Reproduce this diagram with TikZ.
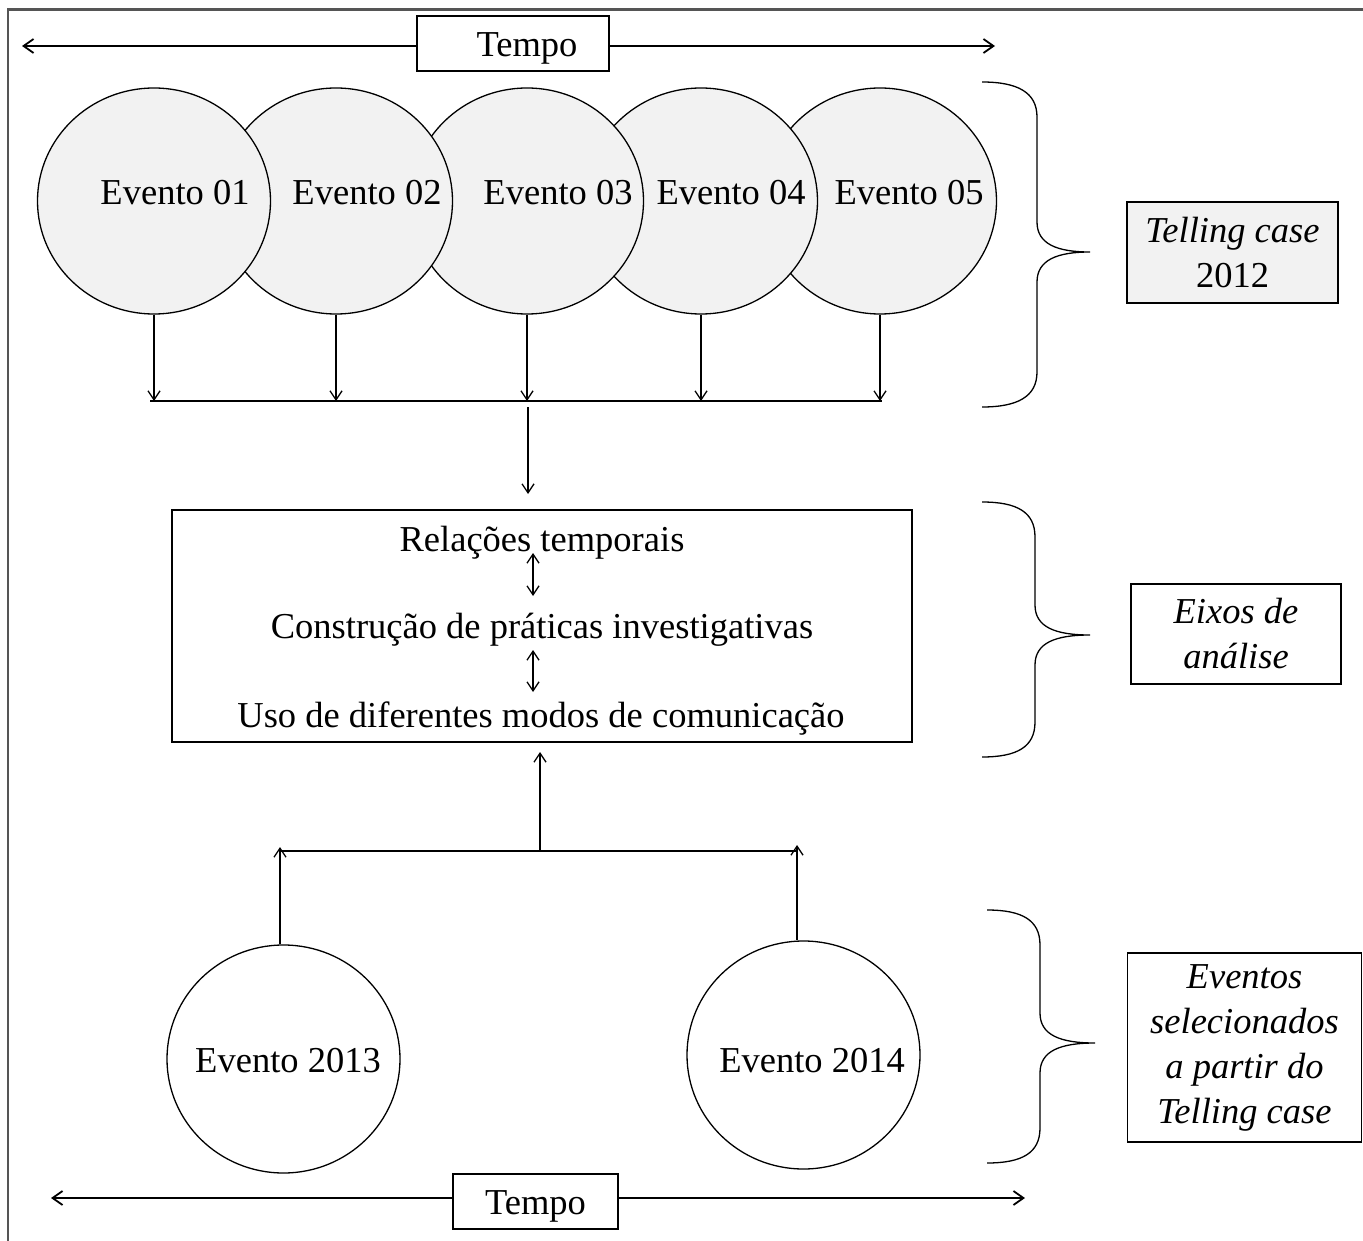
\documentclass[tikz,border=0pt]{standalone}
\usepackage{fontspec}
\setmainfont{Liberation Serif}
\usetikzlibrary{arrows.meta,shapes.geometric}

\definecolor{evfill}{HTML}{F2F2F2}
\definecolor{framec}{HTML}{555555}

% curly brace opening to the right: end x, spine x, tip x, top y, tip y, bottom y
\newcommand\mybrace[6]{%
  \draw (#1,#4) .. controls (#1+35,#4) and (#2,#4+10) .. (#2,#4+35)
        -- (#2,#5-30) .. controls (#2,#5-8) and (#2+20,#5) .. (#3,#5)
        .. controls (#2+20,#5) and (#2,#5+8) .. (#2,#5+30)
        -- (#2,#6-35) .. controls (#2,#6-10) and (#1+35,#6) .. (#1,#6);}

\begin{document}
\begin{tikzpicture}[x=1pt,y=-1pt,line width=1.3pt,
  every node/.style={font=\fontsize{36.5}{45}\selectfont},
  evt/.style={ellipse,draw,fill=evfill,minimum width=233pt,minimum height=226pt,inner sep=0pt},
  evtw/.style={evt,fill=white,minimum height=228pt},
  lbl/.style={anchor=base,inner sep=0pt},
  box/.style={draw,inner sep=0pt,align=center},
  arr/.style={-{Straight Barb[length=9pt,width=12pt]}},
  darr/.style={{Straight Barb[length=9pt,width=12pt]}-{Straight Barb[length=9pt,width=12pt]}},
  tarr/.style={line width=1.8pt,-{Straight Barb[length=10pt,width=14pt]}}]

\useasboundingbox (0,0) rectangle (1363,1241);

% frame
\draw[framec,line width=2.5pt] (8,1241) -- (8,9.5) -- (1363,9.5);

% time axis at the top
\node[box,minimum width=192pt,minimum height=55pt] (tempo1) at (513,43.5) {};
\node[lbl] (tt1) at (527,57) {Tempo};
\coordinate (tl1) at (22,46);
\coordinate (tr1) at (995,46);
\draw[tarr] (tempo1.west |- tl1) -- (tl1);
\draw[tarr] (tempo1.east |- tr1) -- (tr1);

% events of 2012
\node[evt] (ev5) at (880,201) {};
\node[evt] (ev4) at (701,201) {};
\node[evt] (ev3) at (527,201) {};
\node[evt] (ev2) at (336,201) {};
\node[evt] (ev1) at (154,201) {};
\node[lbl] (t1) at (175,205) {Evento 01};
\node[lbl] (t2) at (367,205) {Evento 02};
\node[lbl] (t3) at (558,205) {Evento 03};
\node[lbl] (t4) at (731,205) {Evento 04};
\node[lbl] (t5) at (909,205) {Evento 05};

% collecting line
\coordinate (busL) at (150,401);
\coordinate (busR) at (882,401);
\draw (busL) -- (busR);
\foreach \e in {ev1,ev2,ev3,ev4,ev5}
  \draw[arr] (\e.south) -- (\e.south |- busL);
\coordinate (dnA) at (528,407);
\coordinate (dnB) at (528,494);
\draw[arr] (dnA) -- (dnB);

% analysis axes
\node[box,minimum width=740pt,minimum height=232pt] (eixos) at (542,626) {};
\node[lbl] (r1) at (542,551) {Relações temporais};
\node[lbl] (r2) at (542,638) {Construção de práticas investigativas};
\node[lbl] (r3) at (541,727) {Uso de diferentes modos de comunicação};
\coordinate (d1a) at (533,553);
\coordinate (d1b) at (533,596);
\coordinate (d2a) at (533,650);
\coordinate (d2b) at (533,692);
\draw[darr] (d1a) -- (d1b);
\draw[darr] (d2a) -- (d2b);

% events of 2013 and 2014
\node[evtw] (ev13) at (283.5,1059) {};
\node[evtw] (ev14) at (803.5,1055) {};
\node[lbl] (t13) at (288,1072) {Evento 2013};
\node[lbl] (t14) at (812,1072) {Evento 2014};

\coordinate (bus2L) at (280,851);
\coordinate (bus2R) at (797,851);
\coordinate (bus2M) at (540,851);
\draw (bus2L) -- (bus2R);
\draw[arr] (bus2L |- ev13.north) -- ([yshift=4pt]bus2L);
\draw[arr] (bus2R |- ev14.north) -- ([yshift=6pt]bus2R);
\draw[arr] (bus2M) -- (bus2M |- {(0,752)});

% time axis at the bottom
\node[box,minimum width=165pt,minimum height=55pt] (tempo2) at (535.5,1201.5) {};
\node[lbl] (tt2) at (535.5,1214) {Tempo};
\coordinate (tl2) at (51,1198);
\coordinate (tr2) at (1025,1198);
\draw[tarr] (tempo2.west |- tl2) -- (tl2);
\draw[tarr] (tempo2.east |- tr2) -- (tr2);

% braces and their captions
\mybrace{982}{1037}{1090}{82}{252}{407}
\mybrace{982}{1035}{1090}{502}{635}{757}
\mybrace{987}{1040}{1095}{910}{1043}{1163}

\node[box,fill=evfill,minimum width=211pt,minimum height=101pt] (cap1) at (1232.5,252.5)
  {{\itshape Telling case}\\2012};
\node[box,minimum width=210pt,minimum height=100pt] (cap2) at (1236,634)
  {{\itshape Eixos de}\\{\itshape análise}};
\node[box,minimum width=234pt,minimum height=189pt] (cap3) at (1244.5,1047.5)
  {{\itshape Eventos}\\{\itshape selecionados}\\{\itshape a partir do}\\{\itshape Telling case}};
\end{tikzpicture}
\end{document}
